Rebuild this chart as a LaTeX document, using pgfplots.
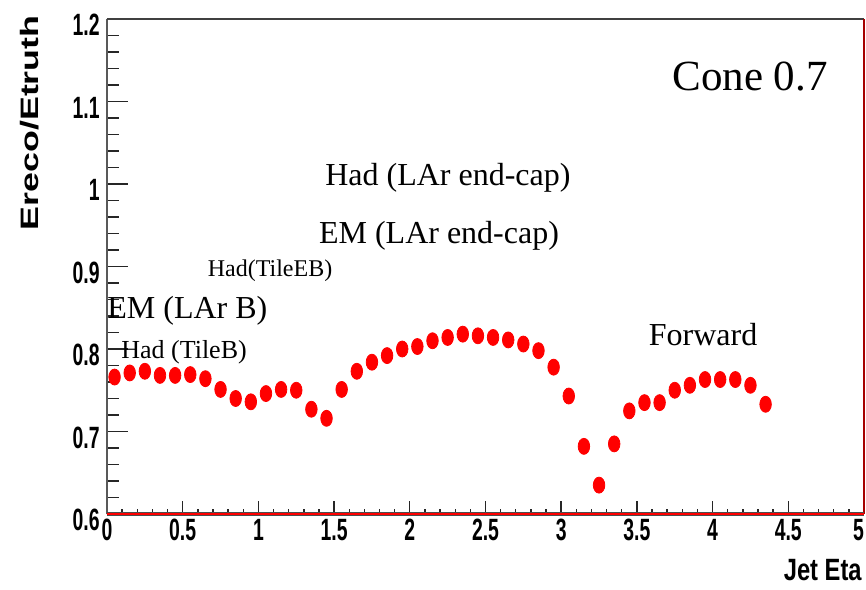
\documentclass[border=0pt]{standalone}
\usepackage{fontspec}
\setmainfont{Liberation Serif}
\newfontfamily\tickfont[FakeStretch=0.63]{Liberation Sans}
\newfontfamily\xlabfont[FakeStretch=0.77]{Liberation Sans}
\newfontfamily\ylabfont[FakeStretch=1.42]{Liberation Sans}
\usepackage{pgfplots}
\pgfplotsset{compat=1.18}

% response vs. jet pseudorapidity, bin centres every 0.1
\pgfplotstableread{
eta   resp
0.05  0.766
0.15  0.771
0.25  0.773
0.35  0.768
0.45  0.768
0.55  0.769
0.65  0.764
0.75  0.751
0.85  0.740
0.95  0.736
1.05  0.746
1.15  0.751
1.25  0.750
1.35  0.727
1.45  0.716
1.55  0.751
1.65  0.773
1.75  0.784
1.85  0.792
1.95  0.800
2.05  0.803
2.15  0.810
2.25  0.814
2.35  0.818
2.45  0.816
2.55  0.814
2.65  0.811
2.75  0.806
2.85  0.798
2.95  0.778
3.05  0.743
3.15  0.682
3.25  0.635
3.35  0.685
3.45  0.725
3.55  0.735
3.65  0.735
3.75  0.750
3.85  0.756
3.95  0.763
4.05  0.763
4.15  0.763
4.25  0.756
4.35  0.733
}\response

\begin{document}
\begin{tikzpicture}
\useasboundingbox (-53.5pt,-37.5pt) rectangle (379.5pt,257pt);
\begin{axis}[
  at={(0,0)}, anchor=south west,
  scale only axis, width=378.5pt, height=247.5pt,
  xmin=0, xmax=5, ymin=0.6, ymax=1.2,
  xtick={0,0.5,1,1.5,2,2.5,3,3.5,4,4.5,5},
  xticklabels={0,0.5,1,1.5,2,2.5,3,3.5,4,4.5,\makebox[0pt][r]{5}},
  ytick={0.6,0.7,0.8,0.9,1,1.1,1.2},
  minor x tick num=4, minor y tick num=4,
  tick align=inside, xtick pos=left, ytick pos=left,
  axis line style={draw=none},
  xtick style={black!85, line width=0.7pt,
    /pgfplots/major tick length=6.5pt, /pgfplots/minor tick length=2.5pt},
  ytick style={black!85, line width=0.7pt,
    /pgfplots/major tick length=10.5pt, /pgfplots/minor tick length=6pt},
  /pgf/number format/assume math mode=true,
  tick label style={font=\tickfont\bfseries\fontsize{15.4}{16}\selectfont, inner sep=0pt},
  xticklabel style={anchor=north, yshift=-2.5pt},
  yticklabel style={anchor=east, xshift=-3.5pt, yshift=-3pt},
  clip=false,
]
\addplot[only marks, mark=*, color=red, mark size=4pt,
  mark options={xscale=0.72}] table[x=eta, y=resp] {\response};

% frame
\draw[gray!70!black, line width=1pt] (rel axis cs:0,0) -- (rel axis cs:0,1);
\draw[black!75, line width=0.9pt] (rel axis cs:0,1) -- (rel axis cs:1,1);
\draw[red!65!black, line width=0.9pt] (rel axis cs:1,1) -- (rel axis cs:1,0);
\draw[black!70, line width=2pt] (rel axis cs:0,0) -- (rel axis cs:1,0);
\draw[red, line width=1.2pt] (rel axis cs:0,0) -- (rel axis cs:1,0);

% axis titles
\node[font=\xlabfont\bfseries\fontsize{15.4}{16}\selectfont, anchor=base east, inner sep=0pt]
  at (axis cs:4.987,0.5188) {Jet Eta};
\node[font=\ylabfont\bfseries\fontsize{12.6}{14}\selectfont, rotate=90, anchor=base east, inner sep=0pt]
  at (axis cs:-0.455,1.2048) {Ereco/Etruth};

% region annotations
\node[font=\fontsize{21.5}{24}\selectfont, anchor=base, inner sep=0pt] at (axis cs:4.247,1.1139) {Cone 0.7};
\node[font=\fontsize{16}{18}\selectfont, anchor=base, inner sep=0pt] at (axis cs:2.252,0.9976) {Had (LAr end-cap)};
\node[font=\fontsize{16}{18}\selectfont, anchor=base, inner sep=0pt] at (axis cs:2.193,0.9273) {EM (LAr end-cap)};
\node[font=\fontsize{12}{14}\selectfont, anchor=base, inner sep=0pt] at (axis cs:1.077,0.8873) {Had(TileEB)};
\node[font=\fontsize{16}{18}\selectfont, anchor=base west, inner sep=0pt] at (axis cs:0.0,0.8364) {EM (LAr B)};
\node[font=\fontsize{13}{15}\selectfont, anchor=base west, inner sep=0pt] at (axis cs:0.092,0.789) {Had (TileB)};
\node[font=\fontsize{16}{18}\selectfont, anchor=base, inner sep=0pt] at (axis cs:3.937,0.8048) {Forward};
\end{axis}
\end{tikzpicture}
\end{document}
